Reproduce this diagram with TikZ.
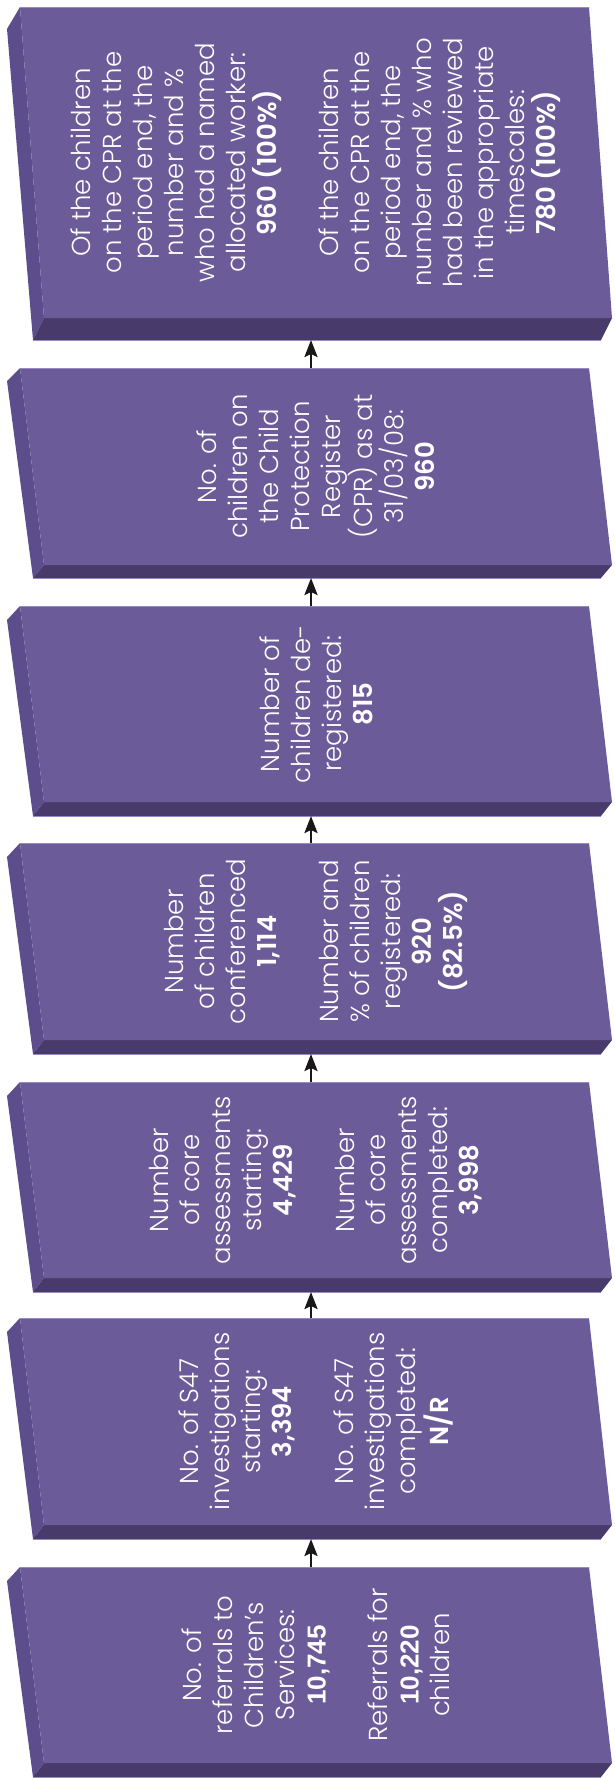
\documentclass[tikz,border=0pt]{standalone}
\usepackage{fontspec}
\setmainfont{Poppins}[UprightFont=* Light, BoldFont=* SemiBold]
\newfontfamily\arialfont{Liberation Sans}
\usetikzlibrary{arrows.meta}
\definecolor{facecol}{RGB}{107,92,153}
\definecolor{sidecol}{RGB}{92,78,140}
\definecolor{basecol}{RGB}{72,58,106}
\definecolor{edgecol}{RGB}{150,138,196}
\definecolor{arrowcol}{RGB}{26,23,25}
\newcommand\drawslab[4]{% name, top, face bottom, depth
  \fill[sidecol] (20,#2) -- (44,#3) -- (33,#3+#4) -- (7,#2+#4) -- cycle;
  \fill[basecol] (44,#3) -- (612,#3) -- (601,#3+#4) -- (33,#3+#4) -- cycle;
  \fill[facecol] (20,#2) -- (589,#2) -- (612,#3) -- (44,#3) -- cycle;
  \draw[edgecol, line width=0.7pt] (20,#2) -- (589,#2);
  \draw[edgecol, line width=0.7pt] (33,#3+#4) -- (601,#3+#4);
  \coordinate (#1top) at (311,#2);
  \coordinate (#1bot) at (311,#3+#4);
}
\begin{document}
\begin{tikzpicture}[x=1pt,y=-1pt,
  txt/.style={text=white, rotate=90, align=center, inner sep=0pt,
    font=\fontsize{26}{31}\selectfont},
  arr/.style={draw=arrowcol, line width=2.6pt,
    -{Stealth[length=17pt,width=13pt,inset=3pt]}}]
\useasboundingbox (0,0) rectangle (614,1778);
\drawslab{b7}{7}{318}{22}
\drawslab{b6}{368}{565}{13}
\drawslab{b5}{606}{802}{14}
\drawslab{b4}{843}{1040}{14}
\drawslab{b3}{1082}{1278}{14}
\drawslab{b2}{1318}{1525}{14}
\drawslab{b1}{1567}{1763}{14}

\node[txt] (t7) at (316,162.5) {Of the children\\on the CPR at the\\period end, the\\number and \%\\who had a named\\allocated worker:\\\textbf{960 (100\%)}\\[31pt]Of the children\\on the CPR at the\\period end, the\\number and \% who\\had been reviewed\\in the appropriate\\timescales:\\\textbf{780 (100\%)}};
\node[txt] (t6) at (316,466.5) {No. of\\children on\\the Child\\Protection\\Register\\(CPR) as at\\31/03/08:\\\textbf{960}};
\node[txt] (t5) at (316,704) {Number of\\children de-\\registered:\\\textbf{815}};
\node[txt] (t4) at (316,941.5) {Number\\of children\\conferenced\\\textbf{1,114}\\[31pt]Number and\\\% of children\\registered:\\\textbf{920}\\\textbf{(82.5\%)}};
\node[txt] (t3) at (316,1180) {Number\\of core\\assessments\\starting:\\\textbf{4,429}\\[31pt]Number\\of core\\assessments\\completed:\\\textbf{3,998}};
\node[txt] (t2) at (316,1421.5) {No. of S47\\investigations\\starting:\\\textbf{3,394}\\[31pt]No. of S47\\investigations\\completed:\\\textbf{N/R}};
\node[txt] (t1) at (316,1665) {No. of\\referrals to\\Children’s\\Services:\\{\arialfont\bfseries 10,745}\\[31pt]Referrals for\\{\arialfont\bfseries 10,220}\\children};

\draw[arr] (b1top) -- (b2bot);
\draw[arr] (b2top) -- (b3bot);
\draw[arr] (b3top) -- (b4bot);
\draw[arr] (b4top) -- (b5bot);
\draw[arr] (b5top) -- (b6bot);
\draw[arr] (b6top) -- (b7bot);
\end{tikzpicture}
\end{document}
